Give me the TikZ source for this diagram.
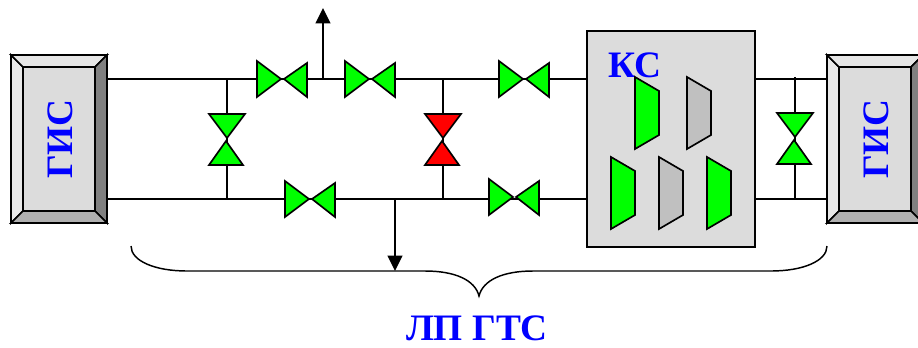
\documentclass[tikz,border=0pt]{standalone}
\usepackage{fontspec}
\setmainfont{Liberation Serif}
\usetikzlibrary{arrows.meta}
\definecolor{vgreen}{RGB}{0,255,0}
\definecolor{boxgray}{RGB}{220,220,220}
\definecolor{pumpgray}{RGB}{192,192,192}
\tikzset{
	pipe/.style = {line width=1.25pt},
	outl/.style = {draw, line width=1.25pt, line join=miter},
	lbl/.style = {text=blue, font=\bfseries\fontsize{28}{28}\selectfont, inner sep=0pt},
	ksbox/.style = {outl, fill=boxgray, minimum width=126pt, minimum height=162pt, inner sep=0pt, outer sep=0pt},
	gisbox/.style = {minimum width=72pt, minimum height=126pt, inner sep=0pt, outer sep=0pt},
	tip/.style = {-{Triangle[width=11pt,length=11.5pt]}}
}
% valves: centre, colour
\newcommand{\valveh}[2]{
	\draw[outl, fill=#2] (#1) ++(-1,0) -- ++(-24,-18) -- ++(0,36) -- cycle;
	\draw[outl, fill=#2] (#1) ++(2,0) -- ++(23,-16) -- ++(0,34) -- cycle;
}
\newcommand{\valvev}[2]{
	\draw[outl, fill=#2] (#1) ++(0,-1) -- ++(-18,-24) -- ++(36,0) -- cycle;
	\draw[outl, fill=#2] (#1) ++(-1,2) -- ++(-17,24) -- ++(34,0) -- cycle;
}
% compressor: top left corner of the high side
\newcommand{\pump}[3]{
	\draw[outl, fill=#3] (#1,#2) -- ++(24,14) -- ++(0,44) -- ++(-24,14) -- cycle;
}
\begin{document}
\begin{tikzpicture}[x=0.75pt,y=-0.75pt]
	\useasboundingbox (0,0) rectangle (918,347);

	\node[gisbox] (gisl) at (59,139) {};
	\node[gisbox] (gisr) at (875,139) {};
	\coordinate (vt1) at (282,79);
	\coordinate (vt2) at (370,79);
	\coordinate (vt3) at (524,79);
	\coordinate (vb1) at (310,199);
	\coordinate (vb2) at (514,197);
	\coordinate (vl) at (227,139);
	\coordinate (vm) at (443,139);
	\coordinate (vr) at (795,138);
	\coordinate (outt) at (323,8);
	\coordinate (outb) at (395,271);
	\node[ksbox] (ks) at (671,139) {};

	% pipes
	\draw[pipe] (gisl.east |- vt1) -- (ks.west |- vt1);
	\draw[pipe] (gisl.east |- vb1) -- (ks.west |- vb1);
	\draw[pipe] (ks.east |- vt1) -- (gisr.west |- vt1);
	\draw[pipe] (ks.east |- vb1) -- (gisr.west |- vb1);
	\draw[pipe] (vl |- vt1) -- (vl |- vb1);
	\draw[pipe] (vm |- vt1) -- (vm |- vb1);
	\draw[pipe] ([yshift=1.5pt]vr |- vt1) -- (vr |- vb1);
	\draw[pipe, tip] (outt |- vt1) -- (outt);
	\draw[pipe, tip] (outb |- vb1) -- (outb);

	% valves
	\foreach \v in {vt1,vt2,vt3,vb1,vb2} {
		\valveh{\v}{vgreen}
	}
	\valvev{vl}{vgreen}
	\valvev{vm}{red}
	\valvev{vr}{vgreen}

	% stations
	\foreach \g in {gisl,gisr} {
		\draw[outl, fill=boxgray!65!white] (\g.center) ++(-48,-84) -- ++(12,12) -- ++(0,144) -- ++(-12,12) -- cycle;
		\draw[outl, fill=boxgray!70!white] (\g.center) ++(-48,-84) -- ++(96,0) -- ++(-12,12) -- ++(-72,0) -- cycle;
		\draw[outl, fill=gray] (\g.center) ++(48,-84) -- ++(0,168) -- ++(-12,-12) -- ++(0,-144) -- cycle;
		\draw[outl, fill=black!31] (\g.center) ++(-48,84) -- ++(96,0) -- ++(-12,-12) -- ++(-72,0) -- cycle;
		\draw[outl, fill=boxgray] (\g.center) ++(-36,-72) rectangle ++(72,144);
		\node[lbl, rotate=90] at ([xshift=0.75pt]\g.center) {ГИС};
	}
	\node[lbl] (kslbl) at (635,65) {КС};
	\pump{635}{77}{vgreen}
	\pump{687}{77}{pumpgray}
	\pump{611}{157}{vgreen}
	\pump{659}{157}{pumpgray}
	\pump{707}{157}{vgreen}

	% brace
	\coordinate (brl) at (131,246);
	\coordinate (brm) at (479,296);
	\coordinate (brr) at (827,246);
	\draw[line width=1.1pt] (brl) .. controls (131,261) and (155,271) .. (187,271)
		-- (425,271) .. controls (455,271) and (475,280) .. (brm)
		.. controls (483,280) and (503,271) .. (533,271)
		-- (771,271) .. controls (803,271) and (827,261) .. (brr);
	\node[lbl] (gts) at (477,328) {ЛП ГТС};
\end{tikzpicture}
\end{document}
